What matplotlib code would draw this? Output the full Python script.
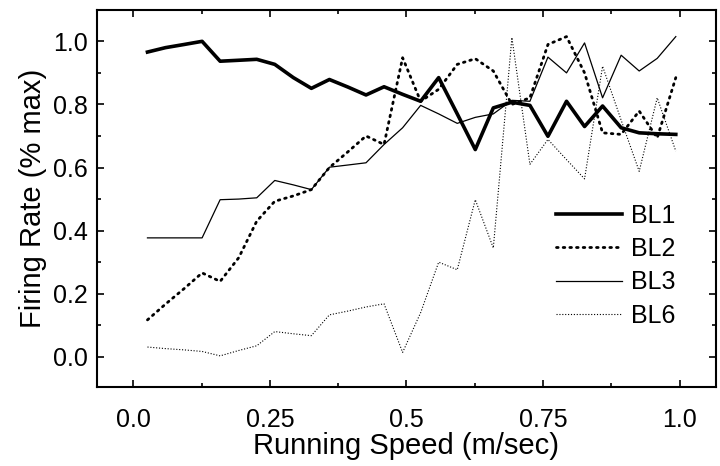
import matplotlib
matplotlib.use("Agg")
import matplotlib.pyplot as plt
from matplotlib.ticker import MultipleLocator, FixedLocator

plt.rcParams['font.family'] = ['Liberation Sans', 'DejaVu Sans']

# running speed bins (m/sec)
speed = [0.026, 0.059, 0.093, 0.126, 0.159, 0.193, 0.226, 0.259, 0.293, 0.326,
         0.359, 0.393, 0.426, 0.459, 0.493, 0.526, 0.559, 0.593, 0.626, 0.659,
         0.693, 0.726, 0.759, 0.793, 0.826, 0.859, 0.893, 0.926, 0.959, 0.993]

bl1 = [0.966, 0.98, 0.99, 1.0, 0.937, 0.94, 0.943, 0.927, 0.885, 0.851,
       0.879, 0.855, 0.83, 0.856, 0.832, 0.81, 0.885, 0.77, 0.657, 0.789,
       0.807, 0.797, 0.699, 0.81, 0.73, 0.795, 0.726, 0.71, 0.707, 0.705]
bl2 = [0.117, 0.167, 0.216, 0.266, 0.239, 0.314, 0.43, 0.493, 0.51, 0.53,
       0.60, 0.65, 0.70, 0.673, 0.948, 0.81, 0.848, 0.927, 0.945, 0.906,
       0.80, 0.821, 0.99, 1.015, 0.90, 0.71, 0.705, 0.779, 0.694, 0.885]
bl3 = [0.377, 0.377, 0.377, 0.377, 0.498, 0.50, 0.504, 0.559, 0.545, 0.53,
       0.601, 0.608, 0.615, 0.673, 0.726, 0.797, 0.77, 0.74, 0.759, 0.77,
       0.813, 0.81, 0.95, 0.90, 0.995, 0.821, 0.956, 0.906, 0.946, 1.015]
bl6 = [0.031, 0.026, 0.022, 0.017, 0.003, 0.02, 0.035, 0.08, 0.073, 0.067,
       0.133, 0.145, 0.158, 0.168, 0.014, 0.14, 0.30, 0.276, 0.498, 0.345,
       1.012, 0.61, 0.689, 0.625, 0.564, 0.921, 0.75, 0.588, 0.821, 0.652]

fig = plt.figure(figsize=(7.2, 4.66), dpi=100)
ax = fig.add_axes([0.135, 0.170, 0.859, 0.809])

ax.plot(speed, bl1, color='black', lw=2.6, label='BL1')
ax.plot(speed, bl2, color='black', lw=2.0, linestyle=(0, (0.6, 1.8)),
        dash_capstyle='round', label='BL2')
ax.plot(speed, bl3, color='black', lw=0.9, label='BL3')
ax.plot(speed, bl6, color='black', lw=0.8, linestyle=(0, (1, 1.6)), label='BL6')

ax.set_xlim(-0.066, 1.066)
ax.set_ylim(-0.095, 1.10)
ax.xaxis.set_major_locator(FixedLocator([0.0, 0.25, 0.5, 0.75, 1.0]))
ax.set_xticklabels(['0.0', '0.25', '0.5', '0.75', '1.0'])
ax.xaxis.set_minor_locator(MultipleLocator(0.125))
ax.yaxis.set_major_locator(MultipleLocator(0.2))
ax.yaxis.set_minor_locator(MultipleLocator(0.1))
ax.set_yticks([0.0, 0.2, 0.4, 0.6, 0.8, 1.0])
ax.set_yticklabels(['0.0', '0.2', '0.4', '0.6', '0.8', '1.0'])

ax.tick_params(which='both', direction='in', top=True, right=True, width=1.2)
ax.tick_params(which='major', length=5, labelsize=18)
ax.tick_params(which='minor', length=3)
ax.tick_params(axis='x', pad=15)
ax.tick_params(axis='y', pad=7)
for s in ax.spines.values():
    s.set_linewidth(1.5)

ax.set_xlabel('Running Speed (m/sec)', fontsize=21, labelpad=0)
ax.set_ylabel('Firing Rate (% max)', fontsize=21, labelpad=4)

ax.legend(loc='upper left', bbox_to_anchor=(0.742, 0.485), frameon=False,
          fontsize=18, handlelength=2.64, handletextpad=0.36, labelspacing=0.37,
          borderpad=0, borderaxespad=0)

fig.savefig('out.png', dpi=100)
